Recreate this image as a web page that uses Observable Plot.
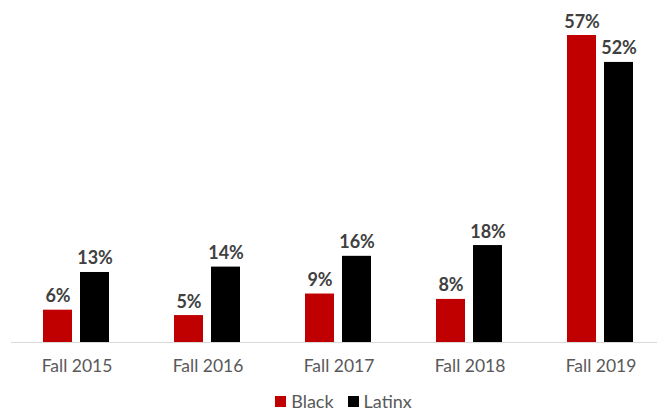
<!DOCTYPE html>
<html>
<head>
<meta charset="utf-8">
<script src="https://cdn.jsdelivr.net/npm/d3@7"></script>
<script src="https://cdn.jsdelivr.net/npm/@observablehq/plot@0.6"></script>
<style>
  body { margin: 0; background: #fff; font-family: Lato, "Open Sans", sans-serif; }
  #chart { width: 657px; }
  .legend { display: flex; justify-content: center; align-items: center; height: 22px; font-size: 18px; color: #595959; padding-left: 30px; }
  .legend span.sw { display: inline-block; width: 11px; height: 11px; margin-right: 5px; }
  .legend .item { display: flex; align-items: center; margin: 0 7px; }
</style>
</head>
<body>
<div id="chart"></div>
<script>
const categories = ["Fall 2015", "Fall 2016", "Fall 2017", "Fall 2018", "Fall 2019"];
const seriesNames = ["Black", "Latinx"];
const blackValues = [6, 5, 9, 8, 57];
const latinxValues = [13, 14, 16, 18, 52];
const seriesColors = ["#C00000", "#000000"];

const data = [];
categories.forEach((c, i) => {
  data.push({category: c, series: seriesNames[0], value: blackValues[i]});
  data.push({category: c, series: seriesNames[1], value: latinxValues[i]});
});

const plot = Plot.plot({
  width: 657,
  height: 390,
  marginTop: 35,
  marginBottom: 48,
  marginLeft: 10,
  marginRight: 0,
  style: {fontFamily: "Lato, 'Open Sans', sans-serif", background: "#fff"},
  fx: {domain: categories, range: [10, 667], padding: 0, label: null, tickSize: 0, tickPadding: 17},
  x: {domain: seriesNames, paddingInner: 0.21, paddingOuter: 0.86, axis: null},
  y: {domain: [0, 57], axis: null},
  color: {domain: seriesNames, range: seriesColors},
  marks: [
    Plot.barY(data, {fx: "category", x: "series", y: "value", fill: "series"}),
    Plot.ruleY([0], {stroke: "#d9d9d9", strokeWidth: 1}),
    Plot.text(data, {fx: "category", x: "series", y: "value", text: d => d.value + "%",
      lineAnchor: "bottom", dy: -8, fill: "#404040", fontWeight: "bold", fontSize: 18})
  ]
});
plot.querySelectorAll('g[aria-label="fx-axis tick label"] text, g[aria-label="fx-axis"] text').forEach(t => {
  t.setAttribute("fill", "#595959");
});
const fxAxis = plot.querySelector('g[aria-label="fx-axis tick label"]') || plot.querySelector('g[aria-label="fx-axis"]');
if (fxAxis) { fxAxis.setAttribute("font-size", 17.5); fxAxis.setAttribute("fill", "#595959"); }
document.getElementById("chart").appendChild(plot);

const legend = document.createElement("div");
legend.className = "legend";
seriesNames.forEach((s, i) => {
  const item = document.createElement("div");
  item.className = "item";
  const sw = document.createElement("span");
  sw.className = "sw";
  sw.style.background = seriesColors[i];
  item.appendChild(sw);
  item.appendChild(document.createTextNode(s));
  legend.appendChild(item);
});
document.getElementById("chart").appendChild(legend);
</script>
</body>
</html>
